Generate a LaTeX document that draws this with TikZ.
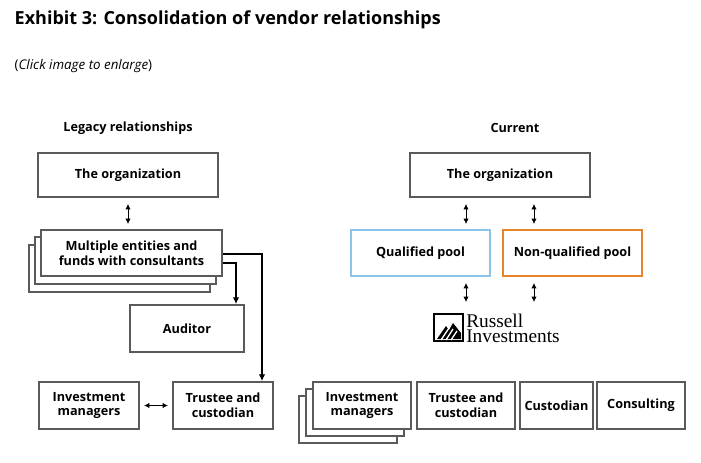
\documentclass[tikz,border=0pt]{standalone}
\usepackage{fontspec}
\setmainfont{Open Sans}
\newfontfamily\rusfont{Liberation Serif}
\usetikzlibrary{arrows.meta}
\definecolor{boxgray}{HTML}{5A5A5A}
\definecolor{qblue}{HTML}{8CC4EC}
\definecolor{qorange}{HTML}{E8852A}
\begin{document}
\begin{tikzpicture}[x=0.75pt,y=-0.75pt,
  bx/.style={draw=boxgray,line width=1.6pt,fill=white,align=center,font=\fontsize{9.5}{11}\selectfont\bfseries,inner sep=0pt},
  bk/.style={draw=boxgray,line width=1.6pt,fill=white},
  dar/.style={{Latex[length=4pt,width=4pt]}-{Latex[length=4pt,width=4pt]},line width=0.6pt},
  ar/.style={-{Latex[length=5pt,width=5pt]},line width=0.8pt},
  hd/.style={font=\fontsize{9.5}{11}\selectfont\bfseries},
  rs/.style={anchor=west,font=\rusfont\fontsize{14.5}{12}\selectfont,inner sep=0pt}]
\useasboundingbox (0,0) rectangle (701,462);
\node[anchor=west,font=\fontsize{13.5}{16}\selectfont\bfseries] (title) at (10,20) {Exhibit 3: Consolidation of vendor relationships};
\node[anchor=west,font=\fontsize{10}{12}\selectfont] (click) at (10,66) {(\textit{Click image to enlarge})};
\node[hd] (lh) at (128,128) {Legacy relationships};
\node[hd] (ch) at (515,128) {Current};
% left
\node[bx,minimum width=180*0.75pt,minimum height=44*0.75pt] (org1) at (128,175) {The organization};
\draw[bk] (29,245) rectangle (210,292);
\draw[bk] (35,237) rectangle (216,284);
\node[bx,minimum width=181*0.75pt,minimum height=46*0.75pt] (multi) at (131.5,253) {Multiple entities and\\funds with consultants};
\draw[dar] (128,204) -- (128,224);
\node[bx,minimum width=114*0.75pt,minimum height=47*0.75pt] (aud) at (187,328.5) {Auditor};
\node[bx,minimum width=100*0.75pt,minimum height=47*0.75pt] (im1) at (89,405.5) {Investment\\managers};
\node[bx,minimum width=100*0.75pt,minimum height=47*0.75pt] (tc1) at (223,405.5) {Trustee and\\custodian};
\coordinate (c1) at (236,263);
\coordinate (c2) at (262,254);
\draw[ar] ([yshift=-7.5pt]multi.east) -- (c1) -- (aud.north -| c1);
\draw[ar] ([yshift=-0.75pt]multi.east) -- (c2) -- (tc1.north -| c2);
\draw[dar] (im1.east) ++(4,0) coordinate (d1) -- ([xshift=-3pt]tc1.west);
% right
\node[bx,minimum width=180*0.75pt,minimum height=44*0.75pt] (org2) at (500,175) {The organization};
\node[bx,draw=qblue,minimum width=139*0.75pt,minimum height=46*0.75pt] (qp) at (420.5,253) {Qualified pool};
\node[bx,draw=qorange,minimum width=139*0.75pt,minimum height=46*0.75pt] (nqp) at (572.5,253) {Non-qualified pool};
\draw[dar] (466,204) -- (466,224);
\draw[dar] (534,204) -- (534,224);
\draw[dar] (466,283) -- (466,302);
\draw[dar] (534,283) -- (534,302);
% logo
\draw[line width=2pt] (434,314) rectangle (463,341);
\fill (437,339) -- (446,326) -- (449,330) -- (453,323) -- (461,333) -- (461,339) -- cycle;
\draw[white,line width=1pt] (441,340) -- (449,328) (446,340) -- (453,329) (451,340) -- (457,331);
\node[rs] (rus1) at (466,321) {Russell};
\node[rs] (rus2) at (466,336) {Investments};
% bottom right
\draw[bk] (299,396) rectangle (397,443);
\draw[bk] (306,389) rectangle (404,436);
\node[bx,minimum width=98*0.75pt,minimum height=47*0.75pt] (im2) at (362,405.5) {Investment\\managers};
\node[bx,minimum width=98*0.75pt,minimum height=47*0.75pt] (tc2) at (466,405.5) {Trustee and\\custodian};
\node[bx,minimum width=73*0.75pt,minimum height=47*0.75pt] (cu) at (556.5,405.5) {Custodian};
\node[bx,minimum width=88*0.75pt,minimum height=47*0.75pt] (co) at (641,405.5) {Consulting};
\end{tikzpicture}
\end{document}
